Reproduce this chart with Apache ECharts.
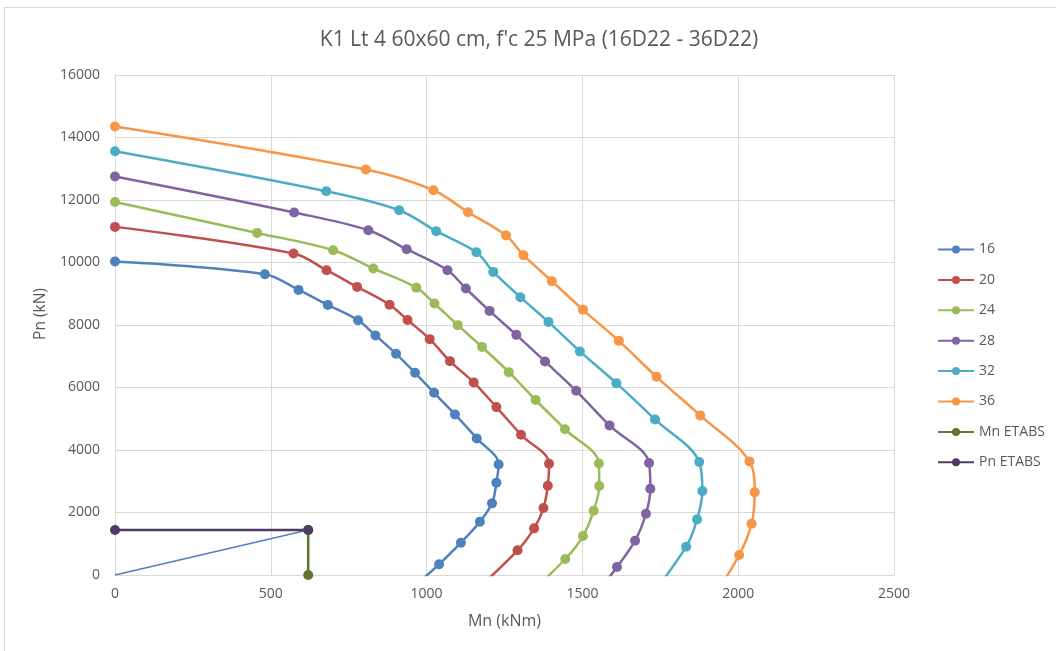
<!DOCTYPE html>
<html>
<head>
<meta charset="utf-8">
<script src="https://cdn.jsdelivr.net/npm/echarts@6/dist/echarts.min.js"></script>
<style>
  html, body { margin: 0; padding: 0; background: #fff; overflow: hidden; }
  #frame { position: absolute; left: 4px; top: 7px; width: 1200px; height: 800px; border: 1px solid #d9d9d9; }
  #chart { position: absolute; left: 0; top: 0; width: 1056px; height: 651px; }
</style>
</head>
<body>
<div id="frame"></div>
<div id="chart"></div>
<script>
// interaction diagrams, [Mn (kNm), Pn (kN)]
const s16 = [[0,10030],[481,9626],[589,9124],[683,8644],[780,8150],[836,7665],[902,7078],[963,6470],[1024,5830],[1091,5139],[1161,4372],[1231,3540],[1224,2952],[1210,2293],[1171,1705],[1110,1033],[1040,342],[910,-800]]
const s20 = [[0,11140],[573,10287],[679,9754],[777,9220],[881,8650],[939,8160],[1010,7547],[1075,6844],[1151,6163],[1224,5373],[1303,4487],[1393,3559],[1389,2856],[1375,2143],[1345,1493],[1292,790],[1125,-800]]
const s24 = [[0,11938],[456,10947],[700,10393],[829,9808],[967,9194],[1025,8689],[1100,7995],[1178,7296],[1264,6492],[1350,5600],[1444,4664],[1553,3570],[1554,2846],[1536,2056],[1502,1247],[1445,512],[1308,-800]]
const s28 = [[0,12750],[575,11599],[813,11033],[936,10425],[1067,9754],[1126,9168],[1202,8452],[1288,7685],[1380,6834],[1480,5894],[1587,4787],[1714,3582],[1718,2760],[1704,1960],[1669,1097],[1611,256],[1530,-800]]
const s32 = [[0,13560],[678,12280],[912,11673],[1031,11001],[1160,10329],[1214,9700],[1301,8890],[1391,8100],[1492,7154],[1609,6140],[1733,4979],[1875,3614],[1885,2686],[1868,1781],[1833,905],[1710,-800]]
const s36 = [[0,14350],[805,12974],[1022,12312],[1133,11609],[1255,10864],[1311,10234],[1402,9402],[1502,8486],[1617,7493],[1738,6342],[1878,5107],[2036,3636],[2053,2645],[2043,1640],[2003,640],[1915,-800]]
const mnEtabs = [[620,0],[620,1440]]
const pnEtabs = [[0,1440],[620,1440]]
const eLine = [[0,0],[620,1440]]

const names = ['16', '20', '24', '28', '32', '36']
const colors = ['#4F81BD', '#C0504D', '#9BBB59', '#8064A2', '#4BACC6', '#F79646']
const curves = [s16, s20, s24, s28, s32, s36]

const font = 'Open Sans'
const textColor = '#595959'

const chart = echarts.init(document.getElementById('chart'))

const series = curves.map((d, i) => ({
  name: names[i],
  type: 'line',
  data: d,
  smooth: 0.35,
  clip: true,
  symbol: 'circle',
  symbolSize: 10,
  color: colors[i],
  lineStyle: { width: 2.5, color: colors[i] },
  itemStyle: { color: colors[i] }
}))

series.push({
  name: 'e',
  type: 'line',
  data: eLine,
  symbol: 'none',
  color: '#4F81BD',
  lineStyle: { width: 1.5, color: '#4F81BD' },
  z: 1
})
series.push({
  name: 'Mn ETABS',
  type: 'line',
  data: mnEtabs,
  symbol: 'circle',
  symbolSize: 10,
  color: '#5F7530',
  lineStyle: { width: 2.5, color: '#5F7530' },
  itemStyle: { color: '#5F7530' }
})
series.push({
  name: 'Pn ETABS',
  type: 'line',
  data: pnEtabs,
  symbol: 'circle',
  symbolSize: 10,
  color: '#4D3B62',
  lineStyle: { width: 2.5, color: '#4D3B62' },
  itemStyle: { color: '#4D3B62' }
})

chart.setOption({
  animation: false,
  title: {
    text: "K1 Lt 4 60x60 cm, f'c 25 MPa (16D22 - 36D22)",
    left: 534,
    textAlign: 'center',
    top: 25,
    textStyle: { fontFamily: font, fontSize: 21, fontWeight: 'normal', color: textColor }
  },
  legend: {
    orient: 'vertical',
    left: 932,
    top: 235,
    itemWidth: 36,
    itemHeight: 10,
    itemGap: 11.4,
    data: names.concat(['Mn ETABS', 'Pn ETABS']),
    textStyle: { fontFamily: font, fontSize: 14, color: textColor, lineHeight: 19 }
  },
  grid: { left: 115, right: 162, top: 75, bottom: 76 },
  xAxis: {
    type: 'value',
    min: 0,
    max: 2500,
    interval: 500,
    name: 'Mn (kNm)',
    nameLocation: 'middle',
    nameGap: 38,
    nameTextStyle: { fontFamily: font, fontSize: 16, color: textColor },
    axisLine: { show: true, lineStyle: { color: '#d9d9d9' } },
    axisTick: { show: false },
    axisLabel: { fontFamily: font, fontSize: 14, color: textColor, margin: 12, formatter: v => String(v) },
    splitLine: { show: true, lineStyle: { color: '#d9d9d9' } }
  },
  yAxis: {
    type: 'value',
    min: 0,
    max: 16000,
    interval: 2000,
    name: 'Pn (kN)',
    nameLocation: 'middle',
    nameGap: 62,
    nameTextStyle: { fontFamily: font, fontSize: 15.5, color: textColor, padding: [0, 0, 0, 22] },
    axisLine: { show: true, lineStyle: { color: '#d9d9d9' } },
    axisTick: { show: false },
    axisLabel: { fontFamily: font, fontSize: 14, color: textColor, margin: 15, formatter: v => String(v) },
    splitLine: { show: true, lineStyle: { color: '#d9d9d9' } }
  },
  series: series
})
</script>
</body>
</html>
